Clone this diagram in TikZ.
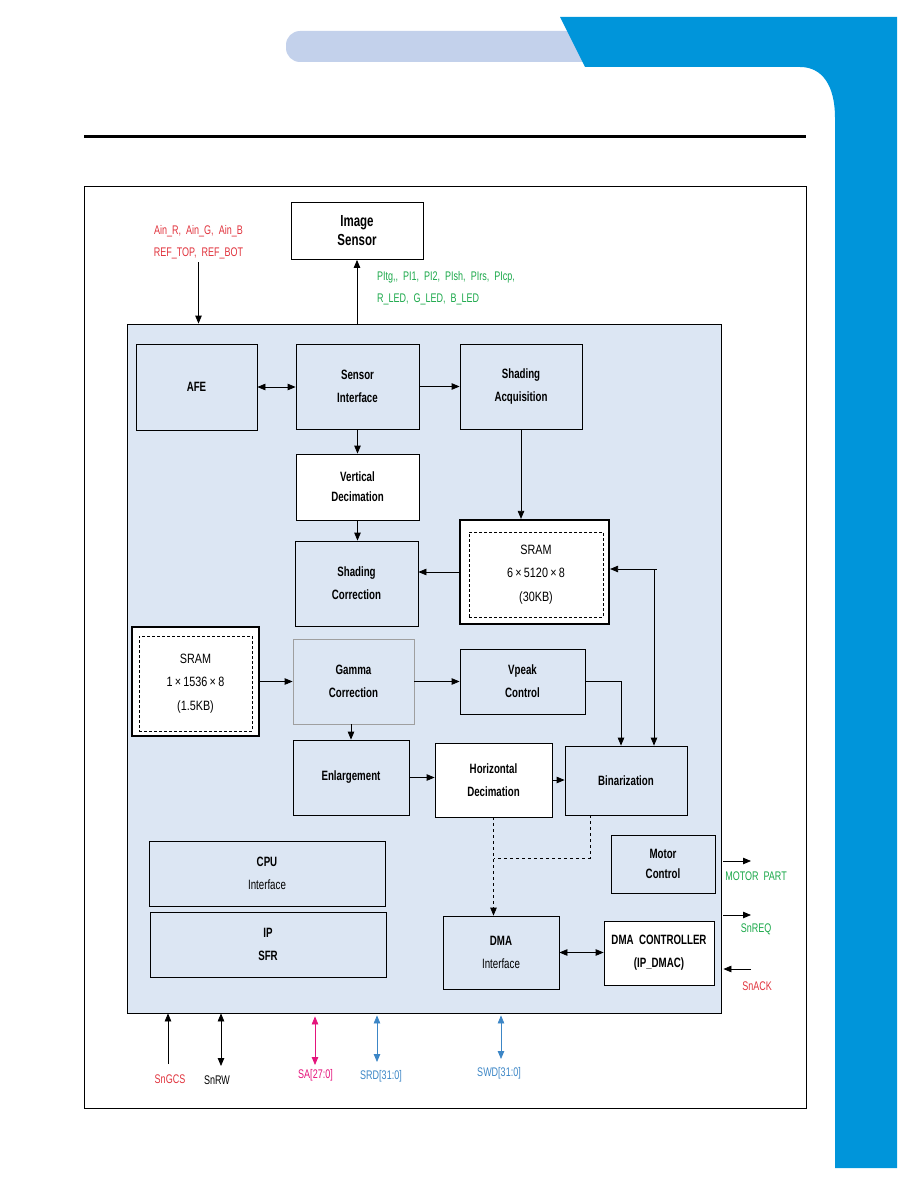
\documentclass[tikz,border=0pt]{standalone}
\usepackage{fontspec}
\setmainfont{Liberation Sans}
\newfontfamily\nar[FakeStretch=0.72]{Liberation Sans}
\newfontfamily\narb[FakeStretch=0.8]{Liberation Sans}
\usetikzlibrary{arrows.meta}
\definecolor{bandblue}{HTML}{0095DA}
\definecolor{lightbar}{HTML}{C3D1EB}
\definecolor{innerfill}{HTML}{DCE6F3}
\definecolor{lblred}{HTML}{E0323C}
\definecolor{lblgreen}{HTML}{1BA84A}
\definecolor{lblmag}{HTML}{E4147C}
\definecolor{lblblue}{HTML}{3C86C6}
\tikzset{
  blk/.style={draw, line width=0.8pt, fill=innerfill, inner sep=0pt, align=center,
    font=\nar\bfseries\fontsize{13.5}{23}\selectfont},
  wblk/.style={blk, fill=white},
  sramo/.style={draw, line width=2.2pt, fill=white, inner sep=0pt},
  srami/.style={draw, densely dashed, line width=0.7pt, inner sep=0pt, align=center,
    font=\narb\fontsize{13.5}{23.5}\selectfont},
  lbl/.style={font=\nar\fontsize{12.5}{14}\selectfont, inner sep=0pt},
  tip/.tip={Triangle[length=8pt,width=6.5pt]},
  arr/.style={-tip, line width=0.8pt},
  darr/.style={tip-tip, line width=0.8pt}
}
\begin{document}
\begin{tikzpicture}[x=1pt,y=-1pt]
\useasboundingbox (0,0) rectangle (918,1188);
% header decoration
\fill[lightbar, rounded corners=14pt] (286,31) rectangle (620,62);
\fill[bandblue] (560,17) -- (897,17) -- (897,1168) -- (835,1168) -- (835,118)
  .. controls (835,85) and (822,67) .. (800,67) -- (585,67) -- cycle;
\draw[line width=3pt] (84,136.5) -- (806,136.5);
% outer frame
\node[draw, line width=0.8pt, minimum width=722pt, minimum height=922pt, inner sep=0pt] (frame) at (445,647) {};
% inner block area
\node[draw, line width=0.8pt, fill=innerfill, minimum width=594pt, minimum height=689pt, inner sep=0pt] (inner) at (424,668.5) {};

% image sensor
\node[wblk, font=\nar\bfseries\fontsize{16}{19}\selectfont, minimum width=132pt, minimum height=57pt] (img) at (357,231) {Image\\Sensor};
\node[lbl, text=lblred] (ain) at (198.5,231) {Ain\_R,\ \ Ain\_G,\ \ Ain\_B};
\node[lbl, text=lblred] (ref) at (198.5,253) {REF\_TOP,\ \ REF\_BOT};
\node[lbl, text=lblgreen, anchor=west] (pl1) at (377,277) {PItg,,\ \ PI1,\ \ PI2,\ \ PIsh,\ \ PIrs,\ \ PIcp,};
\node[lbl, text=lblgreen, anchor=west] (pl2) at (377,299) {R\_LED,\ \ G\_LED,\ \ B\_LED};
\draw[arr] (ref.south |- 0,262) -- (ref.south |- inner.north);
\draw[arr] (img.south |- inner.north) -- (img.south);

% blocks
\node[blk, minimum width=121pt, minimum height=86pt] (afe) at (196.5,387) {AFE};
\node[blk, minimum width=123pt, minimum height=85pt] (sens) at (357.5,386.5) {Sensor\\Interface};
\node[blk, minimum width=122pt, minimum height=85pt] (sacq) at (521,386.5) {Shading\\Acquisition};
\node[wblk, minimum width=123pt, minimum height=66pt] (vdec) at (357.5,487) {Vertical\\[-3pt]Decimation};
\node[blk, minimum width=123pt, minimum height=85pt] (scor) at (356.5,583.5) {Shading\\Correction};
\node[sramo, minimum width=149pt, minimum height=104pt] (sram1) at (534.5,572) {};
\node[srami, minimum width=134pt, minimum height=85pt] (sram1i) at (536,574.5) {SRAM\\6\,×\,5120\,×\,8\\(30KB)};
\node[sramo, minimum width=127pt, minimum height=109pt] (sram2) at (195.5,681.5) {};
\node[srami, minimum width=113pt, minimum height=95pt] (sram2i) at (195.5,683.5) {SRAM\\1\,×\,1536\,×\,8\\(1.5KB)};
\node[blk, draw=gray!75, minimum width=121pt, minimum height=85pt] (gam) at (353.5,681.5) {Gamma\\Correction};
\node[blk, minimum width=125pt, minimum height=65pt] (vpk) at (522.5,681.5) {Vpeak\\Control};
\node[blk, minimum width=116pt, minimum height=75pt] (enl) at (351,777.5) {Enlargement};
\node[wblk, minimum width=117pt, minimum height=74pt] (hdec) at (493.5,780) {Horizontal\\Decimation};
\node[blk, minimum width=122pt, minimum height=69pt] (bin) at (626,780.5) {Binarization};
\node[blk, minimum width=236pt, minimum height=65pt] (cpu) at (267,873.5) {CPU\\{\mdseries Interface}};
\node[blk, minimum width=236pt, minimum height=65pt] (sfr) at (268,944.5) {IP\\SFR};
\node[blk, minimum width=104pt, minimum height=58pt] (mot) at (663,864) {Motor\\[-3pt]Control};
\node[blk, minimum width=116pt, minimum height=73pt] (dma) at (501,952.5) {DMA\\{\mdseries Interface}};
\node[wblk, minimum width=110pt, minimum height=64pt] (dmac) at (659,953) {DMA\ \ CONTROLLER\\(IP\_DMAC)};

% connectors
\draw[darr] (afe.east) -- (afe.east -| sens.west);
\draw[arr] (sens.east) -- (sens.east -| sacq.west);
\draw[arr] (sens.south) -- (sens.south |- vdec.north);
\draw[arr] (vdec.south) -- (vdec.south |- scor.north);
\draw[arr] (sacq.south) -- (sacq.south |- sram1.north);
\draw[arr] (sram1.west) -- (sram1.west -| scor.east);
\draw[arr] (sram2.east) -- (sram2.east -| gam.west);
\draw[arr] (gam.east) -- (gam.east -| vpk.west);
\draw[arr] (enl.north |- gam.south) -- (enl.north);
\draw[arr] (enl.east) -- (enl.east -| hdec.west);
\draw[arr] (hdec.east) -- (hdec.east -| bin.west);
\coordinate (vk) at (621,681.5);
\draw[arr] (vpk.east) -- (vk) -- (vk |- bin.north);
\coordinate (sk) at (654,569);
\draw[darr] (sk -| sram1.east) -- (sk) -- (sk |- bin.north);
\draw[line width=0.8pt] (sk) -- ++(3,0);
\coordinate (bd) at (590,858);
\draw[dashed, line width=0.8pt] (bd |- bin.south) -- (bd) -- (bd -| hdec.south);
\draw[arr, dashed] (hdec.south) -- (hdec.south |- dma.north);
\draw[darr] (dma.east) -- (dma.east -| dmac.west);

% right side signals
\coordinate (mo) at (751,861);
\coordinate (rq) at (751,915);
\coordinate (ak) at (751,969);
\draw[arr] (mo -| inner.east) ++(2,0) -- (mo);
\draw[arr] (rq -| inner.east) ++(2,0) -- (rq);
\draw[arr] (ak) -- ([xshift=2pt]ak -| inner.east);
\node[lbl, text=lblgreen] (mpl) at (756,876) {MOTOR\ \ PART};
\node[lbl, text=lblgreen] (rql) at (756,929) {SnREQ};
\node[lbl, text=lblred] (akl) at (757,986) {SnACK};

% bottom signals
\coordinate (gcs) at (168,1064);
\coordinate (rw) at (221,1066);
\coordinate (sa) at (315,1065);
\coordinate (srd) at (377,1062);
\coordinate (swd) at (501,1059);
\draw[arr] (gcs) -- (gcs |- inner.south);
\draw[darr] (rw |- inner.south) -- (rw);
\draw[darr, draw=lblmag, fill=lblmag] (sa |- inner.south) ++(0,3) -- (sa);
\draw[darr, draw=lblblue, fill=lblblue] (srd |- inner.south) ++(0,2) -- (srd);
\draw[darr, draw=lblblue, fill=lblblue] (swd |- inner.south) ++(0,2) -- (swd);
\node[lbl, text=lblred] (gcsl) at (170,1079) {SnGCS};
\node[lbl] (rwl) at (217,1080) {SnRW};
\node[lbl, text=lblmag] (sal) at (315.5,1075) {SA[27:0]};
\node[lbl, text=lblblue] (srdl) at (381,1076) {SRD[31:0]};
\node[lbl, text=lblblue] (swdl) at (499,1073) {SWD[31:0]};
\end{tikzpicture}
\end{document}
